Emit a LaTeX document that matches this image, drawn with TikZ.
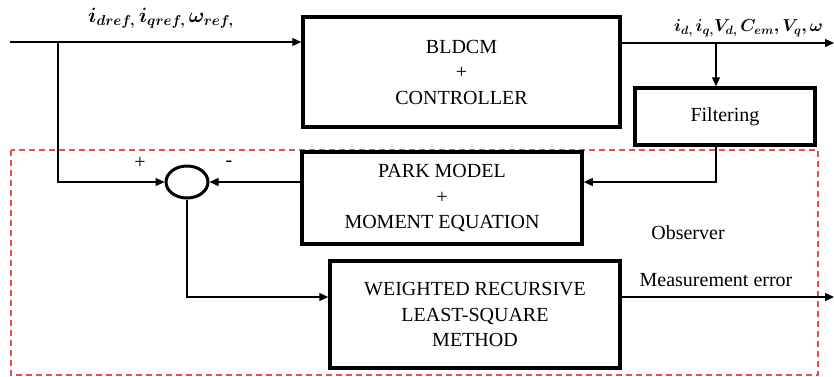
\documentclass[tikz,border=0pt]{standalone}
\usepackage{bm}
\usepackage{fontspec}
\setmainfont{Liberation Serif}
\usetikzlibrary{arrows.meta,shapes.geometric}
\definecolor{obsred}{RGB}{228,80,80}
\tikzset{
  blockbox/.style={draw, line width=3.5pt, align=center, inner sep=0pt,
    font=\fontsize{20}{25.5}\selectfont},
  wire/.style={line width=1.3pt, -{Triangle[length=9pt,width=8pt]}},
  lbl/.style={font=\fontsize{20}{24}\selectfont, inner sep=0pt}
}
\begin{document}
\begin{tikzpicture}[x=1pt,y=-1pt]
  \useasboundingbox (0,0) rectangle (834,376);

  %% observer frame
  \draw[obsred, line width=1.2pt, dash pattern=on 6pt off 4pt] (11,150) rectangle (818,375);

  %% blocks
  \node[blockbox, minimum width=317pt, minimum height=110pt] (ctrl) at (461.5,72) {BLDCM\\+\\CONTROLLER};
  \node[blockbox, minimum width=180pt, minimum height=57pt] (filt) at (725,116.5) {Filtering};
  \node[blockbox, minimum width=280pt, minimum height=92pt] (park) at (442,198) {PARK MODEL\\+\\MOMENT EQUATION};
  \node[blockbox, minimum width=290pt, minimum height=107pt] (wrls) at (475,314.5) {WEIGHTED RECURSIVE\\LEAST-SQUARE\\METHOD};
  \node[draw, ellipse, line width=3pt, minimum width=42pt, minimum height=32pt, inner sep=0pt] (sum) at (187,182) {};

  %% helper points
  \coordinate (in) at (10,42);
  \coordinate (br) at (58,42);
  \coordinate (tap) at (716,43);
  \coordinate (out) at (834,43);
  \coordinate (fb) at (716,182);
  \coordinate (err) at (834,297);

  %% connectors
  \draw[wire] (in) -- (in -| ctrl.west);
  \draw[wire] (br) |- (sum.west);
  \draw[wire] (tap -| ctrl.east) -- (out);
  \draw[wire] (tap) -- (tap |- filt.north);
  \draw[wire] (fb |- filt.south) -- (fb) -- (fb -| park.east);
  \draw[wire] (sum.east -| park.west) -- (sum.east);
  \draw[wire] (sum.south) |- (err -| wrls.west);
  \draw[wire] (err -| wrls.east) -- (err);

  %% labels
  \node[lbl] (reflbl) at (161,18) {$\bm{i_{dref,}\,i_{qref,}\,\omega_{ref,}}$};
  \node[lbl, anchor=west, font=\fontsize{17}{20}\selectfont] (outlbl) at (674,28) {$\bm{i_{d,}\,i_{q,}V_{d,}\,C_{em},V_{q},\omega}$};
  \node[lbl] (plus) at (140,163) {+};
  \node[lbl] (minus) at (229,164) {-};
  \node[lbl] (obs) at (688,233) {Observer};
  \node[lbl] (meas) at (716,280) {Measurement error};

\end{tikzpicture}
\end{document}
